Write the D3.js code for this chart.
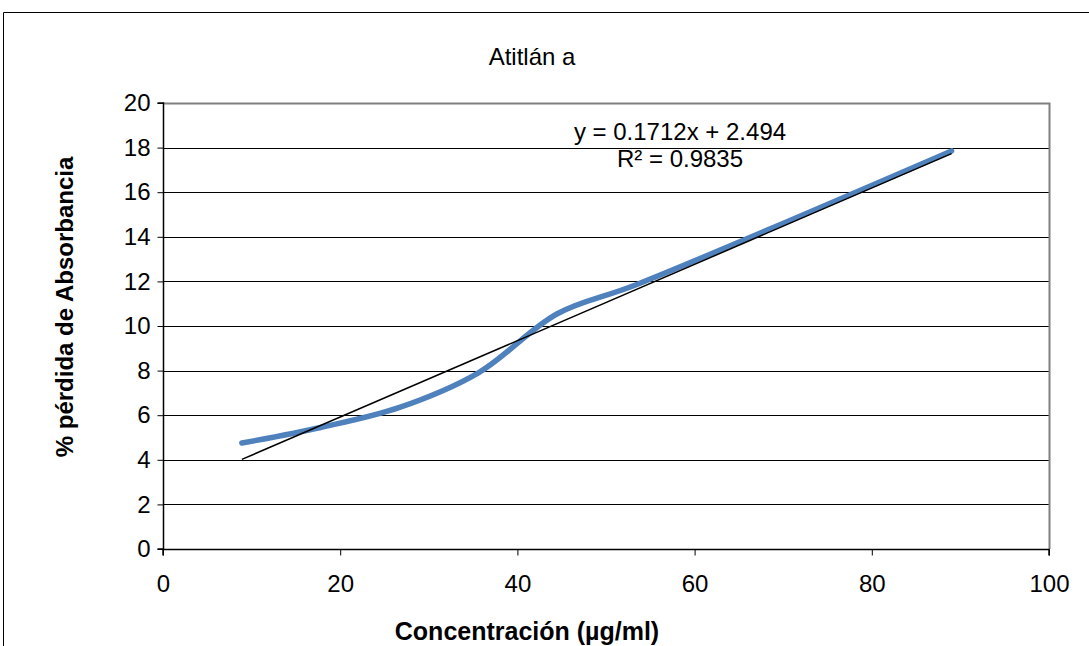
<!DOCTYPE html>
<html>
<head>
<meta charset="utf-8">
<script src="https://cdn.jsdelivr.net/npm/d3@7"></script>
<style>
  html, body { margin: 0; padding: 0; background: #fff; }
  svg { display: block; font-family: Arial, "Liberation Sans", sans-serif; }
</style>
</head>
<body>
<svg id="chart" width="1089" height="646"></svg>
<script>
// data
const concentration = [8.9, 17.8, 26.7, 35.6, 44.5, 53.4, 89];
const absorbLoss = [4.75, 5.45, 6.35, 7.9, 10.55, 11.85, 17.85];
const xTicks = [0, 20, 40, 60, 80, 100];
const yTicks = [0, 2, 4, 6, 8, 10, 12, 14, 16, 18, 20];
const trend = { slope: 0.1712, intercept: 2.494, r2: 0.9835 };

const title = "Atitlán a";
const xTitle = "Concentración (µg/ml)";
const yTitle = "% pérdida de Absorbancia";

const plot = { left: 163, top: 103, right: 1049, bottom: 549 };
const fontSize = "24px";

const svg = d3.select("#chart");

// outer chart frame (runs off right/bottom edges)
svg.append("path")
  .attr("d", "M3.5,646 L3.5,12.5 L1089,12.5")
  .attr("fill", "none")
  .attr("stroke", "#000")
  .attr("stroke-width", 1);

const x = d3.scaleLinear().domain([0, 100]).range([plot.left, plot.right]);
const y = d3.scaleLinear().domain([0, 20]).range([plot.bottom, plot.top]);

// gridlines
svg.append("g")
  .selectAll("line")
  .data(yTicks.filter(d => d > 0 && d < 20))
  .enter()
  .append("line")
    .attr("x1", plot.left).attr("x2", plot.right)
    .attr("y1", d => Math.round(y(d)) + 0.5).attr("y2", d => Math.round(y(d)) + 0.5)
    .attr("stroke", "#000")
    .attr("stroke-width", 1);

// plot area border, top and right in grey
svg.append("path")
  .attr("d", `M${plot.left},${plot.top + 0.5} L${plot.right + 0.5},${plot.top + 0.5} L${plot.right + 0.5},${plot.bottom}`)
  .attr("fill", "none")
  .attr("stroke", "#808080")
  .attr("stroke-width", 2);

// axes
const yAxis = d3.axisLeft(y).tickValues(yTicks).tickSize(6).tickPadding(7);
const xAxis = d3.axisBottom(x).tickValues(xTicks).tickSize(6).tickPadding(19);

const gy = svg.append("g")
  .attr("transform", `translate(${plot.left + 0.5},0)`)
  .call(yAxis);
const gx = svg.append("g")
  .attr("transform", `translate(0,${plot.bottom + 0.5})`)
  .call(xAxis);

[gx, gy].forEach(g => {
  g.select(".domain").attr("stroke", "#000").attr("stroke-width", 1.5);
  g.selectAll(".tick line").attr("stroke", "#000");
  g.selectAll("text")
    .attr("fill", "#000")
    .style("font-size", fontSize)
    .style("font-family", "Arial, 'Liberation Sans', sans-serif");
});
gy.select(".domain").attr("d", `M-6,${plot.top}H0V${plot.bottom}H-6`);
gx.select(".domain").attr("d", `M${plot.left},6V0H${plot.right}V6`);

// series line, smoothed
const line = d3.line()
  .x((d, i) => x(concentration[i]))
  .y(d => y(d))
  .curve(d3.curveCatmullRom.alpha(0.5));

svg.append("path")
  .datum(absorbLoss)
  .attr("d", line)
  .attr("fill", "none")
  .attr("stroke", "#4F81BD")
  .attr("stroke-width", 5.5)
  .attr("stroke-linecap", "round")
  .attr("stroke-linejoin", "round");

// linear trendline across the data range
const xMin = d3.min(concentration), xMax = d3.max(concentration);
svg.append("line")
  .attr("x1", x(xMin)).attr("y1", y(trend.slope * xMin + trend.intercept))
  .attr("x2", x(xMax)).attr("y2", y(trend.slope * xMax + trend.intercept))
  .attr("stroke", "#000")
  .attr("stroke-width", 1.5);

// trendline equation
svg.append("text")
  .attr("x", 680).attr("y", 140)
  .attr("text-anchor", "middle")
  .style("font-size", fontSize)
  .text(`y = ${trend.slope}x + ${trend.intercept}`);
svg.append("text")
  .attr("x", 680).attr("y", 167)
  .attr("text-anchor", "middle")
  .style("font-size", fontSize)
  .text(`R² = ${trend.r2}`);

// titles
svg.append("text")
  .attr("x", 532).attr("y", 65)
  .attr("text-anchor", "middle")
  .style("font-size", fontSize)
  .text(title);

svg.append("text")
  .attr("x", 527).attr("y", 640)
  .attr("text-anchor", "middle")
  .style("font-size", "25px")
  .style("font-weight", "bold")
  .text(xTitle);

svg.append("text")
  .attr("transform", "translate(73,307) rotate(-90)")
  .attr("text-anchor", "middle")
  .style("font-size", fontSize)
  .style("font-weight", "bold")
  .text(yTitle);
</script>
</body>
</html>
